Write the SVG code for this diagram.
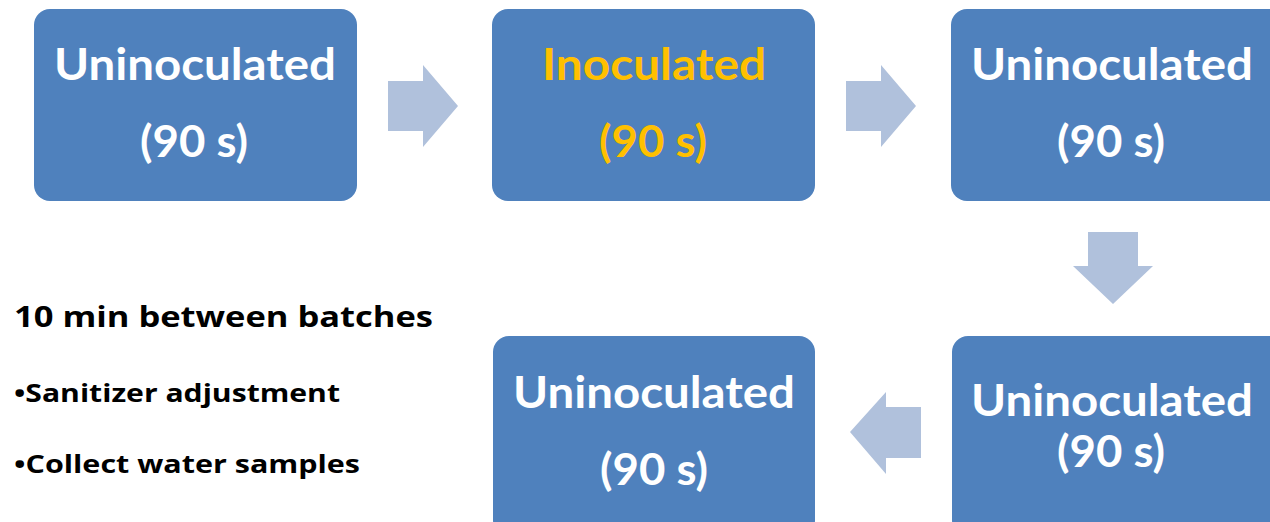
<svg xmlns="http://www.w3.org/2000/svg" width="1270" height="522" viewBox="0 0 1270 522">
<style>
.box{fill:#4F81BD;}
.arr{fill:#B0C1DC;}
.t{font-family:Lato,"Open Sans","Liberation Sans",sans-serif;font-weight:bold;font-size:43px;text-anchor:middle;fill:#FFFFFF;}
.o{fill:#FFC000;}
.l{font-family:"Open Sans","Liberation Sans",sans-serif;font-weight:bold;fill:#000000;}
</style>
<rect width="1270" height="522" fill="#FFFFFF"/>
<g id="connectors">
<polygon class="arr" points="388,81 423,81 423,65 458,106 423,147 423,131 388,131"/>
<polygon class="arr" points="846,81 881,81 881,65 916,106 881,147 881,131 846,131"/>
<polygon class="arr" points="1088,232 1138,232 1138,266 1153,266 1113,304 1073,266 1088,266"/>
<polygon class="arr" points="921,407 886,407 886,392 850,432 886,474 886,458 921,458"/>
</g>
<g id="node1">
<rect class="box" x="34" y="9" width="323" height="192" rx="16"/>
<text class="t" x="195" y="80" textLength="282" lengthAdjust="spacingAndGlyphs">Uninoculated</text>
<text class="t" x="194" y="157" textLength="108" lengthAdjust="spacingAndGlyphs">(90 s)</text>
</g>
<g id="node2">
<rect class="box" x="492" y="9" width="323" height="192" rx="16"/>
<text class="t o" x="654" y="80" textLength="224" lengthAdjust="spacingAndGlyphs">Inoculated</text>
<text class="t o" x="653" y="157" textLength="108" lengthAdjust="spacingAndGlyphs">(90 s)</text>
</g>
<g id="node3">
<rect class="box" x="951" y="9" width="335" height="192" rx="16"/>
<text class="t" x="1112" y="80" textLength="282" lengthAdjust="spacingAndGlyphs">Uninoculated</text>
<text class="t" x="1111" y="157" textLength="108" lengthAdjust="spacingAndGlyphs">(90 s)</text>
</g>
<g id="node4">
<rect class="box" x="952" y="336" width="335" height="200" rx="16"/>
<text class="t" x="1112" y="416" textLength="282" lengthAdjust="spacingAndGlyphs">Uninoculated</text>
<text class="t" x="1111" y="467" textLength="108" lengthAdjust="spacingAndGlyphs">(90 s)</text>
</g>
<g id="node5">
<rect class="box" x="493" y="336" width="322" height="200" rx="16"/>
<text class="t" x="654" y="408" textLength="282" lengthAdjust="spacingAndGlyphs">Uninoculated</text>
<text class="t" x="654" y="485" textLength="108" lengthAdjust="spacingAndGlyphs">(90 s)</text>
</g>
<g id="notes">
<text class="l" x="14" y="327" font-size="29" textLength="419" lengthAdjust="spacingAndGlyphs">10 min between batches</text>
<text class="l" x="14" y="402" font-size="25" textLength="326" lengthAdjust="spacingAndGlyphs">•Sanitizer adjustment</text>
<text class="l" x="14" y="473" font-size="25" textLength="346" lengthAdjust="spacingAndGlyphs">•Collect water samples</text>
</g>
</svg>
